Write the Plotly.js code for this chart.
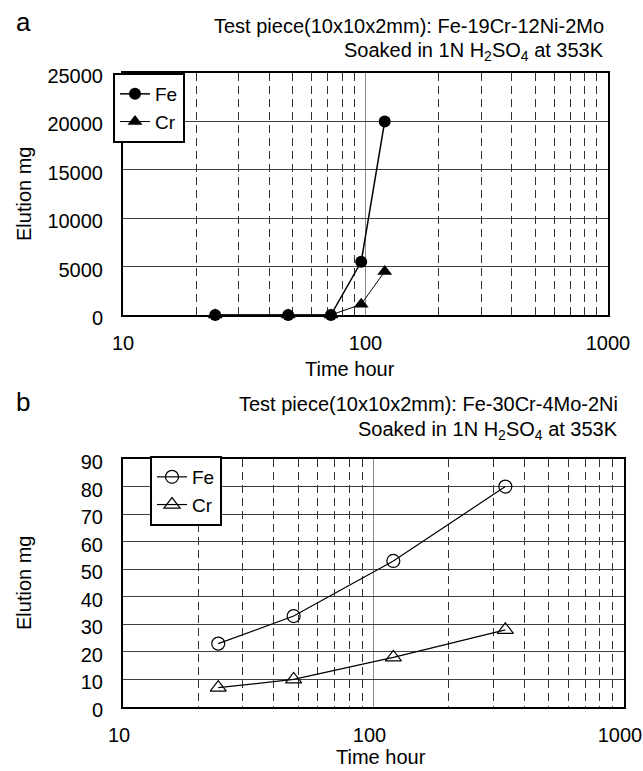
<!DOCTYPE html>
<html>
<head>
<meta charset="utf-8">
<script src="https://cdn.plot.ly/plotly-3.0.1.min.js"></script>
<style>html,body{margin:0;padding:0;background:#fff;}#chart{width:643px;height:771px;}</style>
</head>
<body>
<div id="chart"></div>
<script>
// ---- data ----
const hoursA = [24, 48, 72, 96, 120];
const feA = [0, 0, 0, 5500, 20000];
const crA = [0, 0, 0, 1100, 4500];
const hoursB = [24, 48, 120, 336];
const feB = [23, 33, 53, 80];
const crB = [7, 10, 18, 28];
const seriesNames = ["Fe", "Cr"];
const xTickVals = [10, 100, 1000];
const xTickText = ["10", "100", "1000"];
const yTickValsA = [0, 5000, 10000, 15000, 20000, 25000];
const yTickTextA = ["0", "5000", "10000", "15000", "20000", "25000"];
const yTickValsB = [0, 10, 20, 30, 40, 50, 60, 70, 80, 90];
const yTickTextB = ["0", "10", "20", "30", "40", "50", "60", "70", "80", "90"];
const titleA1 = "Test piece(10x10x2mm): Fe-19Cr-12Ni-2Mo";
const titleB1 = "Test piece(10x10x2mm): Fe-30Cr-4Mo-2Ni";
const titleSoak = "Soaked in 1N H<sub>2</sub>SO<sub>4</sub> at 353K";

// ---- layout helpers ----
const W = 643, H = 771;
const px = x => x / W;
const py = y => 1 - y / H;
const FONT = "Liberation Sans, Arial, sans-serif";

const traces = [
  {x: hoursA, y: feA, name: seriesNames[0], mode: "lines+markers", xaxis: "x", yaxis: "y", legend: "legend",
   line: {color: "#000", width: 1.5}, marker: {symbol: "circle", size: 12, color: "#000"}, cliponaxis: false},
  {x: hoursA, y: crA, name: seriesNames[1], mode: "lines+markers", xaxis: "x", yaxis: "y", legend: "legend",
   line: {color: "#000", width: 1}, marker: {symbol: "triangle-up", size: 13, color: "#000"}, cliponaxis: false},
  {x: hoursB, y: feB, name: seriesNames[0], mode: "lines+markers", xaxis: "x2", yaxis: "y2", legend: "legend2",
   line: {color: "#000", width: 1.2}, marker: {symbol: "circle-open", size: 13, color: "#000", line: {width: 1.2}}, cliponaxis: false},
  {x: hoursB, y: crB, name: seriesNames[1], mode: "lines+markers", xaxis: "x2", yaxis: "y2", legend: "legend2",
   line: {color: "#000", width: 1.2}, marker: {symbol: "triangle-up-open", size: 14, color: "#000", line: {width: 1.2}}, cliponaxis: false}
];

function xAxis(domain, anchor, shift) {
  return {
    type: "log", range: [1, 3], domain: domain, anchor: anchor,
    tickvals: xTickVals, ticktext: xTickText, ticks: "", ticklabelstandoff: 9,
    ticklabeloverflow: "allow", ticklabelshift: shift,
    tickfont: {family: FONT, size: 20, color: "#000"},
    showline: true, mirror: true, linecolor: "#000", linewidth: 2,
    showgrid: true, gridcolor: "#8a8a8a", gridwidth: 1,
    minor: {dtick: "D1", showgrid: true, gridcolor: "#333", gridwidth: 1, griddash: "8px,5px", ticks: ""},
    zeroline: false, fixedrange: true
  };
}
function yAxis(domain, anchor, range, vals, text) {
  return {
    range: range, domain: domain, anchor: anchor, tickvals: vals, ticktext: text, ticks: "",
    ticklabelstandoff: 14, ticklabelshift: 3,
    tickfont: {family: FONT, size: 20, color: "#000"},
    showline: true, mirror: true, linecolor: "#000", linewidth: 2,
    showgrid: true, gridcolor: "#404040", gridwidth: 1, zeroline: false, fixedrange: true
  };
}

function ann(text, x, y, xanchor, size, extra) {
  return Object.assign({text: text, x: px(x), y: py(y), xref: "paper", yref: "paper",
    xanchor: xanchor, yanchor: "middle", showarrow: false,
    font: {family: FONT, size: size, color: "#000"}}, extra || {});
}

const legendFont = {family: FONT, size: 19, color: "#000"};

const layout = {
  width: W, height: H, margin: {l: 0, r: 0, t: 0, b: 0},
  paper_bgcolor: "#fff", plot_bgcolor: "#fff",
  font: {family: FONT, size: 20, color: "#000"},
  xaxis: xAxis([px(123), px(608)], "y", 0),
  yaxis: yAxis([py(315), py(73)], "x", [0, 25000], yTickValsA, yTickTextA),
  xaxis2: xAxis([px(123), px(624)], "y2", -4),
  yaxis2: yAxis([py(707), py(459)], "x2", [0, 90], yTickValsB, yTickTextB),
  legend: {x: px(113), y: py(73), xanchor: "left", yanchor: "top", bgcolor: "#fff",
    bordercolor: "#000", borderwidth: 2, font: legendFont, tracegroupgap: 0},
  legend2: {x: px(150), y: py(456), xanchor: "left", yanchor: "top", bgcolor: "#fff",
    bordercolor: "#000", borderwidth: 2, font: legendFont, tracegroupgap: 0},
  annotations: [
    ann("a", 14, 22, "left", 26),
    ann(titleA1, 606, 26, "right", 20),
    ann(titleSoak, 606, 52, "right", 20),
    ann("Elution mg", 24, 194, "center", 20, {textangle: -90}),
    ann("Time hour", 350, 369, "center", 20),
    ann("b", 14, 402, "left", 26),
    ann(titleB1, 620, 404, "right", 20),
    ann(titleSoak, 620, 430, "right", 20),
    ann("Elution mg", 24, 583, "center", 20, {textangle: -90}),
    ann("Time hour", 381, 757, "center", 20)
  ],
  showlegend: true
};

Plotly.newPlot("chart", traces, layout, {staticPlot: true, displayModeBar: false});
</script>
</body>
</html>
